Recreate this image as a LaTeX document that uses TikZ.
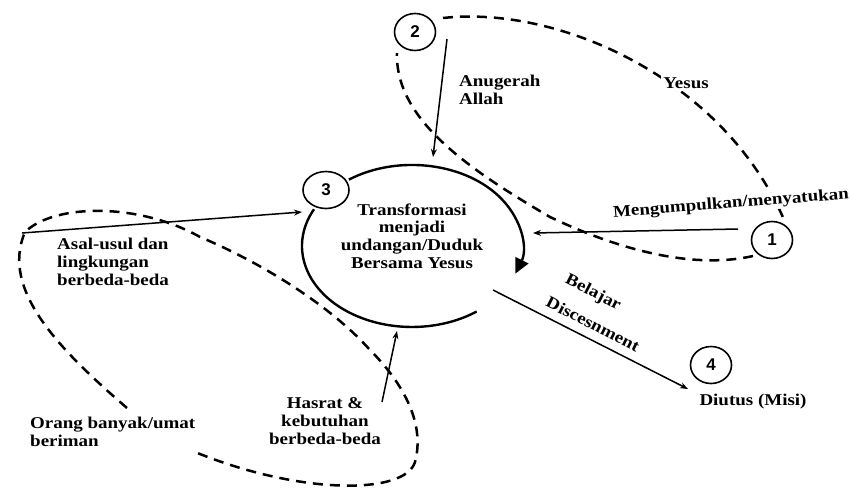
\documentclass[tikz,border=0pt]{standalone}
\usepackage{fontspec}
\setmainfont{Liberation Serif}[FakeStretch=1.15]
\newfontfamily\numfont{Liberation Sans}
\usetikzlibrary{shapes.geometric,arrows.meta}

\begin{document}
\begin{tikzpicture}[x=1pt,y=-1pt,
    loopline/.style={dash pattern=on 10pt off 7pt, line width=2.5pt},
    link/.style={-{Stealth[length=8pt,width=6pt]}, line width=1.5pt}]

      \useasboundingbox (0,0) rectangle (850,491);

      % numbered stages
      \begin{scope}[every node/.style={ellipse, draw, line width=1.6pt, minimum width=41pt, minimum height=37pt, inner sep=0pt, font=\numfont\bfseries\fontsize{17}{17}\selectfont}]
        \node (n2) at (415,32)  {2};
        \node[minimum width=46pt] (n3) at (326,190) {3};
        \node (n1) at (772,240) {1};
        \node (n4) at (711,365) {4};
      \end{scope}

      % dashed groups
      \draw[loopline] (443,18) .. controls (560,5) and (725,80) .. (785,222);
      \draw[loopline] (753,256) .. controls (700,268) and (630,255) .. (550,217)
                                .. controls (470,170) and (395,120) .. (397,53);
      \draw[loopline] (127,408) .. controls (60,350) and (0,290) .. (25,232)
                                .. controls (55,203) and (140,203) .. (200,237)
                                .. controls (260,262) and (330,305) .. (370,350)
                                .. controls (405,385) and (425,425) .. (415,462)
                                .. controls (405,495) and (300,495) .. (195,452);

      % circle of transformation
      \draw[line width=2.4pt, -{Triangle[length=15pt,width=14pt]}]
        (348.9,179.6) arc[start angle=-125, end angle=20, x radius=110, y radius=81];
      \draw[line width=2.4pt]
        (314,209.2) arc[start angle=-153, end angle=-306, x radius=110, y radius=81];

      % arrow ends
      \coordinate (g0) at (447,39);
      \coordinate (g1) at (433,157);
      \coordinate (a0) at (22,233);
      \coordinate (a1) at (302,212);
      \coordinate (m0) at (738,229);
      \coordinate (m1) at (533,233);
      \coordinate (b0) at (493,290);
      \coordinate (b1) at (688,389);
      \coordinate (h0) at (382,402);
      \coordinate (h1) at (397,331);

      \draw[link] (g0) -- (g1);
      \draw[link] (a0) -- (a1);
      \draw[link] (m0) -- (m1);
      \draw[link] (b0) -- (b1);
      \draw[link] (h0) -- (h1);

      % labels
      \begin{scope}[every node/.style={inner sep=0pt, font=\bfseries\fontsize{16.5}{17.7}\selectfont}]
        \node[anchor=west, align=left] (grace) at (459,90) {Anugerah\\Allah};
        \node[fill=white, inner sep=2pt] (jesus) at (686,83) {Yesus};
        \node[rotate=4.5, fill=white, inner sep=1pt] (gather) at (731,204) {Mengumpulkan/menyatukan};
        \node[align=center] (transform) at (412,236) {Transformasi\\menjadi\\undangan/Duduk\\Bersama Yesus};
        \node[anchor=west, align=left] (origin) at (57,262) {Asal-usul dan\\lingkungan\\berbeda-beda};
        \node[rotate=-27] (learn) at (593,293) {Belajar};
        \node[rotate=-27] (discern) at (593,324) {Discesnment};
        \node (sent) at (753,402) {Diutus (Misi)};
        \node[align=center] (desire) at (325,421) {Hasrat \&\\kebutuhan\\berbeda-beda};
        \node[anchor=west, align=left] (people) at (30,432) {Orang banyak/umat\\beriman};
      \end{scope}

    \end{tikzpicture}
\end{document}
